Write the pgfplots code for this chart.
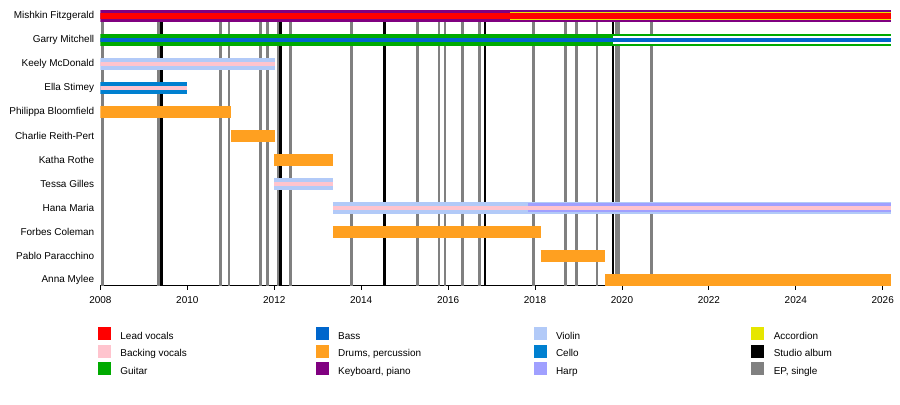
\documentclass[border=0pt]{standalone}
\usepackage{fontspec}
\setmainfont{Liberation Sans}
\usepackage{pgfplots}
\pgfplotsset{compat=1.18}
\definecolor{cLead}{RGB}{255,0,0}
\definecolor{cBack}{RGB}{255,196,206}
\definecolor{cGuitar}{RGB}{0,170,0}
\definecolor{cBass}{RGB}{0,102,204}
\definecolor{cDrums}{RGB}{255,160,32}
\definecolor{cKeys}{RGB}{128,0,128}
\definecolor{cViolin}{RGB}{178,202,248}
\definecolor{cCello}{RGB}{0,128,208}
\definecolor{cHarp}{RGB}{160,160,255}
\definecolor{cAcc}{RGB}{230,230,0}
\definecolor{cEP}{RGB}{128,128,128}
\pgfplotstableread{
x y
2008.05 12.25
2009.33 12.25
2010.76 12.25
2010.96 12.25
2011.68 12.25
2011.84 12.25
2012.09 12.25
2012.37 12.25
2013.78 12.25
2015.29 12.25
2015.79 12.25
2015.93 12.25
2016.33 12.25
2016.72 12.25
2017.97 12.25
2018.70 12.25
2018.96 12.25
2019.43 12.25
2019.87 12.25
2019.93 12.25
2020.68 12.25
}\eptable
\pgfplotstableread{
x y
2009.40 12.25
2012.14 12.25
2014.53 12.25
2016.85 12.25
2019.79 12.25
}\albumtable
\pgfplotsset{
  bar/.style={line width=#1, line cap=butt, forget plot},
  sw/.style={legend image code/.code={\fill[##1] (0bp,-3.6bp) rectangle (12bp,8.4bp);}},
}
\begin{document}
\begin{tikzpicture}
\useasboundingbox (0,0) rectangle (900bp,405bp);
\begin{axis}[
  at={(100.4bp,119.5bp)}, anchor=south west,
  scale only axis, width=790.6bp, height=275.6bp,
  xmin=2008, xmax=2026.19, ymin=0.75, ymax=12.25,
  axis x line=bottom, axis y line=left,
  axis line style={-},
  y axis line style={draw=none},
  x axis line style={black, line width=0.8bp},
  xtick={2008,2010,...,2026}, minor x tick num=1,
  xtick align=outside, major tick length=4bp, minor tick length=2bp,
  x tick style={black, line width=0.8bp},
  ytick={1,...,12}, ytick style={draw=none},
  yticklabels={Anna Mylee, Pablo Paracchino, Forbes Coleman, Hana Maria, Tessa Gilles, Katha Rothe, Charlie Reith-Pert, Philippa Bloomfield, Ella Stimey, Keely McDonald, Garry Mitchell, Mishkin Fitzgerald},
  yticklabel style={anchor=east, inner sep=0pt, xshift=-4bp},
  xticklabel style={inner sep=0pt, anchor=north, yshift=-7bp},
  /pgf/number format/assume math mode=true,
  /pgf/number format/set thousands separator={},
  legend columns=4, legend cell align=left,
  legend style={at={(axis description cs:-0.003,-0.1517)}, anchor=north west,
    draw=none, fill=none, inner sep=0pt, outer sep=0pt, row sep=5bp, column sep=0pt,
    nodes={inner sep=0pt, text depth=0pt},
    /tikz/every odd column/.append style={column sep=10bp}},
]
% release lines
\addplot[ycomb, cEP, line width=2.6bp, forget plot] table {\eptable};
\addplot[ycomb, black, line width=2.6bp, forget plot] table {\albumtable};
% Mishkin Fitzgerald (12)
\addplot[bar=12bp, cKeys] coordinates {(2008,12) (2026.19,12)};
\addplot[bar=8.5bp, cAcc] coordinates {(2017.42,12) (2026.19,12)};
\addplot[bar=5.5bp, cLead] coordinates {(2008,12) (2026.19,12)};
% Garry Mitchell (11)
\addplot[bar=12bp, cGuitar] coordinates {(2008,11) (2026.19,11)};
\addplot[bar=8.5bp, white] coordinates {(2019.80,11) (2026.19,11)};
\addplot[bar=4.5bp, cBass] coordinates {(2008,11) (2026.19,11)};
% Keely McDonald (10)
\addplot[bar=12bp, cViolin] coordinates {(2008,10) (2012.02,10)};
\addplot[bar=4bp, cBack] coordinates {(2008,10) (2012.02,10)};
% Ella Stimey (9)
\addplot[bar=12bp, cCello] coordinates {(2008,9) (2010.0,9)};
\addplot[bar=4bp, cBack] coordinates {(2008,9) (2010.0,9)};
% Philippa Bloomfield (8)
\addplot[bar=12bp, cDrums] coordinates {(2008,8) (2011.0,8)};
% Charlie Reith-Pert (7)
\addplot[bar=12bp, cDrums] coordinates {(2011.0,7) (2012.02,7)};
% Katha Rothe (6)
\addplot[bar=12bp, cDrums] coordinates {(2012.0,6) (2013.35,6)};
% Tessa Gilles (5)
\addplot[bar=12bp, cViolin] coordinates {(2012.0,5) (2013.35,5)};
\addplot[bar=4bp, cBack] coordinates {(2012.0,5) (2013.35,5)};
% Hana Maria (4)
\addplot[bar=12bp, cViolin] coordinates {(2013.35,4) (2026.19,4)};
\addplot[bar=8.5bp, cHarp] coordinates {(2017.84,4) (2026.19,4)};
\addplot[bar=4bp, cBack] coordinates {(2013.35,4) (2026.19,4)};
% Forbes Coleman (3)
\addplot[bar=12bp, cDrums] coordinates {(2013.35,3) (2018.13,3)};
% Pablo Paracchino (2)
\addplot[bar=12bp, cDrums] coordinates {(2018.13,2) (2019.62,2)};
% Anna Mylee (1)
\addplot[bar=12bp, cDrums] coordinates {(2019.61,1) (2026.19,1)};
% legend (row-major order)
\addlegendimage{sw, cLead}\addlegendentry{\makebox[195.4bp][l]{Lead vocals}}
\addlegendimage{sw, cBass}\addlegendentry{\makebox[195.4bp][l]{Bass}}
\addlegendimage{sw, cViolin}\addlegendentry{\makebox[195.4bp][l]{Violin}}
\addlegendimage{sw, cAcc}\addlegendentry{\makebox[100bp][l]{Accordion}}
\addlegendimage{sw, cBack}\addlegendentry{Backing vocals}
\addlegendimage{sw, cDrums}\addlegendentry{Drums, percussion}
\addlegendimage{sw, cCello}\addlegendentry{Cello}
\addlegendimage{sw, black}\addlegendentry{Studio album}
\addlegendimage{sw, cGuitar}\addlegendentry{Guitar}
\addlegendimage{sw, cKeys}\addlegendentry{Keyboard, piano}
\addlegendimage{sw, cHarp}\addlegendentry{Harp}
\addlegendimage{sw, cEP}\addlegendentry{EP, single}
\end{axis}
\end{tikzpicture}
\end{document}
